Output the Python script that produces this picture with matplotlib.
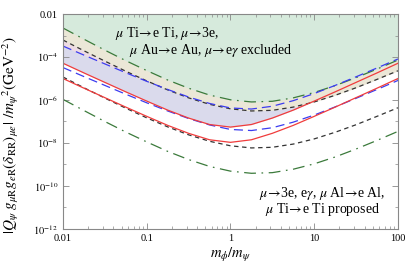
import numpy as np
import matplotlib
matplotlib.use("Agg")
import matplotlib.pyplot as plt
from matplotlib.ticker import LogLocator, FixedLocator, FixedFormatter, NullFormatter

plt.rcParams['font.family'] = ['Liberation Serif', 'DejaVu Serif']
plt.rcParams['mathtext.fontset'] = 'stix'
plt.rcParams['lines.scale_dashes'] = False

# mass ratio m_phi/m_psi
ratio = [0.01, 0.0178, 0.0316, 0.0562, 0.1, 0.178, 0.316, 0.562, 1.0,
         1.78, 3.16, 5.62, 10.0, 17.8, 31.6, 56.2, 100.0]

# log10 of bounds
green_excl = [-2.65, -3.17, -3.68, -4.17, -4.63, -5.07, -5.45, -5.77, -5.99, -6.09, -6.06, -5.90, -5.65, -5.33, -4.96, -4.56, -4.14]
green_prop = [-5.97, -6.49, -7.00, -7.49, -7.95, -8.39, -8.77, -9.09, -9.31, -9.41, -9.38, -9.22, -8.97, -8.65, -8.28, -7.88, -7.46]
black_excl = [-3.21, -3.71, -4.19, -4.66, -5.11, -5.53, -5.90, -6.20, -6.41, -6.51, -6.48, -6.33, -6.09, -5.78, -5.43, -5.04, -4.64]
black_prop = [-4.93, -5.43, -5.91, -6.38, -6.83, -7.25, -7.62, -7.92, -8.13, -8.23, -8.20, -8.05, -7.81, -7.50, -7.15, -6.76, -6.36]
blue_excl = [-3.49, -3.91, -4.32, -4.73, -5.13, -5.51, -5.86, -6.16, -6.37, -6.42, -6.29, -6.03, -5.70, -5.32, -4.92, -4.51, -4.09]
blue_prop = [-4.49, -4.91, -5.32, -5.73, -6.13, -6.51, -6.86, -7.16, -7.37, -7.42, -7.29, -7.03, -6.70, -6.32, -5.92, -5.51, -5.09]
red_excl = [-4.29, -4.74, -5.18, -5.62, -6.05, -6.47, -6.84, -7.14, -7.26, -7.14, -6.84, -6.47, -6.05, -5.62, -5.18, -4.74, -4.29]
red_prop = [-5.00, -5.45, -5.89, -6.33, -6.76, -7.18, -7.55, -7.85, -7.97, -7.85, -7.55, -7.18, -6.76, -6.33, -5.89, -5.45, -5.00]

xticks = [0.01, 0.1, 1, 10, 100]
xticklabels = ["0.01", "0.1", "1", "10", "100"]
yticks = [1e-12, 1e-10, 1e-8, 1e-6, 1e-4, 1e-2]
yticklabels = [r"$10^{-12}$", r"$10^{-10}$", r"$10^{-8}$", r"$10^{-6}$", r"$10^{-4}$", "0.01"]

x = np.array(ratio)
def val(a):
    return 10.0 ** np.array(a)

fig = plt.figure(figsize=(4.09, 2.70), dpi=100)
ax = fig.add_axes([0.154, 0.152, 0.819, 0.796])
ax.set_xscale('log')
ax.set_yscale('log')
ax.set_xlim(0.01, 100)
ax.set_ylim(1e-12, 1e-2)

top = 1e-2
ax.fill_between(x, val(red_excl), top, color='#dadaec', lw=0)
ax.fill_between(x, val(blue_excl), top, color='#eedbe3', lw=0)
ax.fill_between(x, val(black_excl), top, color='#ebe7d7', lw=0)
ax.fill_between(x, val(green_excl), top, color='#d6eadc', lw=0)

lw = 0.9
gd = (0, (8.5, 4.0, 1.2, 4.0))
kd = (0, (3.2, 2.6))
bd = (0, (6.5, 3.6))
ax.plot(x, val(green_excl), color='#3b7a3b', lw=lw, ls=gd)
ax.plot(x, val(green_prop), color='#3b7a3b', lw=lw, ls=gd)
ax.plot(x, val(black_excl), color='#333333', lw=lw, ls=kd)
ax.plot(x, val(black_prop), color='#333333', lw=lw, ls=kd)
ax.plot(x, val(blue_excl), color='#3c3cf0', lw=lw, ls=bd)
ax.plot(x, val(blue_prop), color='#3c3cf0', lw=lw, ls=bd)
ax.plot(x, val(red_excl), color='#f03c3c', lw=lw)
ax.plot(x, val(red_prop), color='#f03c3c', lw=lw)

ax.xaxis.set_major_locator(FixedLocator(xticks))
ax.xaxis.set_major_formatter(FixedFormatter(xticklabels))
ax.xaxis.set_minor_locator(LogLocator(base=10, subs=np.arange(2, 10), numticks=20))
ax.xaxis.set_minor_formatter(NullFormatter())
ax.yaxis.set_major_locator(FixedLocator(yticks))
ax.yaxis.set_major_formatter(FixedFormatter(yticklabels))
ax.yaxis.set_minor_locator(FixedLocator([1e-11, 1e-9, 1e-7, 1e-5, 1e-3]))
ax.yaxis.set_minor_formatter(NullFormatter())
ax.tick_params(which='both', direction='in', top=True, right=True, labelsize=7.5, color='#888888')
ax.tick_params(which='major', length=4, width=0.6)
ax.tick_params(which='minor', length=2, width=0.5)
for s in ax.spines.values():
    s.set_color('#888888')
    s.set_linewidth(0.8)

ax.set_xlabel(r"$m_\phi/m_\psi$", fontsize=10.5, labelpad=2)
ax.set_ylabel(r"$|Q_\psi\ g_{\mu\mathrm{R}}g_{e\mathrm{R}}(\delta_{\mathrm{RR}})_{\mu e}|\ /m_\psi{}^2(\mathrm{GeV}^{-2})$", fontsize=11, labelpad=1)
ax.yaxis.set_label_coords(-0.125, 0.44)

fs = 10
arr = r"$\!\rightarrow\!$"
ax.text(0.042, 1.3e-3, r"$\mu$ Ti" + arr + "e Ti, " + r"$\mu$" + arr + "3e,", fontsize=fs, va='center', ha='left')
ax.text(0.062, 2.1e-4, r"$\mu$ Au" + arr + "e Au, " + r"$\mu$" + arr + r"e$\gamma$ excluded", fontsize=fs, va='center', ha='left')
ax.text(12.6, 4.6e-11, r"$\mu$" + arr + r"3e, e$\gamma$, $\mu$ Al" + arr + "e Al,", fontsize=fs, va='center', ha='center')
ax.text(12.6, 8.0e-12, r"$\mu$ Ti" + arr + "e Ti proposed", fontsize=fs, va='center', ha='center')

fig.savefig("out.png", dpi=100)
